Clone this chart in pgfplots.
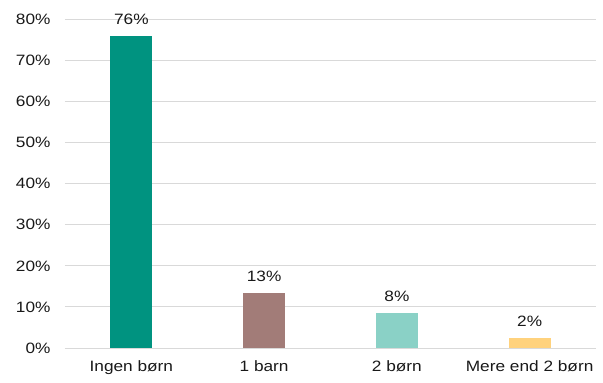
\documentclass[border=0pt]{standalone}
\usepackage{pgfplots}
\pgfplotsset{compat=1.18}
\usepackage{fontspec}
\setmainfont[FakeStretch=1.15]{Liberation Sans}
\definecolor{c1}{HTML}{009380}
\definecolor{c2}{HTML}{A27C78}
\definecolor{c3}{HTML}{8AD1C6}
\definecolor{c4}{HTML}{FFD27D}
\definecolor{gridc}{HTML}{D9D9D9}
\begin{document}
\begin{tikzpicture}
\useasboundingbox (-65pt,-35pt) rectangle (538pt,348pt);
\begin{axis}[
  scale only axis,
  width=531pt, height=328.5pt,
  xmin=-0.5, xmax=3.5, ymin=0, ymax=80,
  ytick={0,10,...,80},
  xtick={0,1,2,3},
  xticklabels={Ingen børn,1 barn,2 børn,Mere end 2 børn},
  yticklabel={\pgfmathprintnumber{\tick}\%},
  /pgf/number format/assume math mode=true,
  axis line style={draw=none},
  major tick length=0pt,
  ymajorgrids,
  grid style={gridc, line width=1pt},
  ticklabel style={font=\fontsize{15}{17}\selectfont, text=black!90},
  yticklabel style={xshift=-11pt},
  xticklabel style={yshift=-9pt},
  ybar, bar width=42pt, bar shift=0pt,
  point meta=explicit symbolic,
  nodes near coords,
  every node near coord/.append style={font=\fontsize{15}{17}\selectfont, text=black!90, yshift=8pt},
  clip=false,
]
\addplot[fill=c1, draw=none] coordinates {(0,76) [76\%]};
\addplot[fill=c2, draw=none] coordinates {(1,13.3) [13\%]};
\addplot[fill=c3, draw=none] coordinates {(2,8.5) [8\%]};
\addplot[fill=c4, draw=none] coordinates {(3,2.4) [2\%]};
\end{axis}
\end{tikzpicture}
\end{document}
